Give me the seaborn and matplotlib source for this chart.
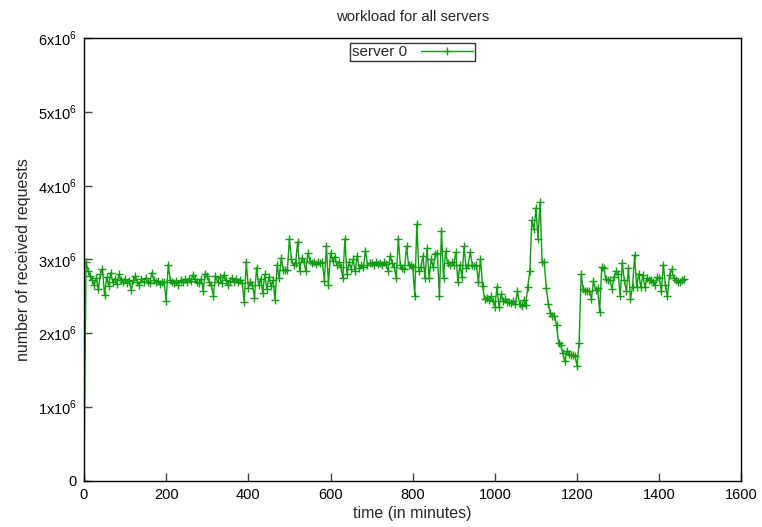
import numpy as np
import pandas as pd
import matplotlib
matplotlib.use("Agg")
import matplotlib.pyplot as plt
from matplotlib.ticker import FuncFormatter, MultipleLocator
import seaborn as sns

# values in millions of requests, one per 5 minutes starting at t=0
seg_000 = [0.0, 2.96, 2.85, 2.78, 2.72, 2.66, 2.75, 2.60, 2.80, 2.87, 2.52, 2.76, 2.64, 2.82, 2.70, 2.74, 2.67, 2.80, 2.72, 2.70]
seg_100 = [2.74, 2.68, 2.71, 2.59, 2.72, 2.77, 2.70, 2.66, 2.73, 2.69, 2.75, 2.70, 2.68, 2.82, 2.72, 2.69, 2.71, 2.67, 2.70, 2.69]
seg_200 = [2.44, 2.93, 2.72, 2.70, 2.68, 2.71, 2.66, 2.72, 2.69, 2.73, 2.70, 2.74, 2.71, 2.79, 2.73, 2.70, 2.68, 2.74, 2.58, 2.81]
seg_300 = [2.78, 2.70, 2.65, 2.51, 2.78, 2.70, 2.76, 2.68, 2.79, 2.72, 2.66, 2.71, 2.75, 2.69, 2.73, 2.70, 2.72, 2.68, 2.43, 2.96]
seg_400 = [2.62, 2.70, 2.66, 2.48, 2.89, 2.66, 2.74, 2.55, 2.80, 2.60, 2.76, 2.64, 2.72, 2.45, 2.92, 2.75, 3.02, 2.86, 2.86, 2.86]
seg_500 = [3.28, 3.00, 2.92, 2.95, 3.24, 2.85, 3.02, 2.97, 2.84, 3.09, 2.98, 2.95, 2.97, 2.94, 2.96, 2.95, 2.97, 2.71, 3.18, 2.66]
seg_600 = [3.09, 2.98, 3.04, 2.93, 2.97, 2.90, 2.75, 3.28, 2.81, 2.96, 2.87, 3.00, 2.84, 3.05, 2.88, 2.93, 2.90, 3.12, 2.93, 2.95]
seg_700 = [2.95, 2.93, 2.96, 2.94, 2.95, 2.93, 2.96, 2.94, 2.84, 3.05, 2.95, 2.90, 2.75, 3.28, 2.92, 2.88, 2.87, 3.18, 2.92, 2.93]
seg_800 = [2.90, 2.51, 3.48, 2.85, 2.90, 3.05, 2.75, 3.15, 2.75, 3.00, 2.90, 3.07, 3.09, 2.50, 3.39, 2.75, 3.11, 2.95, 2.93, 2.96]
seg_900 = [2.93, 3.10, 2.70, 2.93, 2.76, 3.18, 2.88, 2.93, 3.10, 2.93, 2.91, 2.93, 2.69, 3.01, 2.64, 2.47, 2.48, 2.45, 2.50, 2.44]
seg_1000 = [2.36, 2.63, 2.35, 2.53, 2.44, 2.46, 2.42, 2.43, 2.41, 2.44, 2.40, 2.57, 2.40, 2.37, 2.45, 2.38, 2.63, 2.84, 3.53, 3.41]
seg_1100 = [3.70, 3.28, 3.78, 2.96, 2.97, 2.62, 2.40, 2.28, 2.24, 2.24, 2.11, 1.87, 1.84, 1.74, 1.62, 1.76, 1.72, 1.70, 1.71, 1.69]
seg_1200 = [1.56, 1.87, 2.80, 2.60, 2.58, 2.57, 2.58, 2.47, 2.71, 2.59, 2.61, 2.29, 2.90, 2.88, 2.74, 2.72, 2.72, 2.60, 2.76, 2.84]
seg_1300 = [2.81, 2.50, 2.95, 2.72, 2.57, 2.88, 2.47, 2.63, 3.06, 2.63, 2.81, 2.63, 2.79, 2.63, 2.75, 2.72, 2.72, 2.69, 2.66, 2.76]
seg_1400 = [2.75, 2.57, 2.93, 2.66, 2.50, 2.79, 2.87, 2.75, 2.72, 2.70, 2.69, 2.72, 2.74]

requests_millions = (seg_000 + seg_100 + seg_200 + seg_300 + seg_400 + seg_500 + seg_600
                     + seg_700 + seg_800 + seg_900 + seg_1000 + seg_1100 + seg_1200
                     + seg_1300 + seg_1400)
minutes = [5 * i for i in range(len(requests_millions))]
series_name = "server 0"

df = pd.DataFrame({"time": minutes,
                   "requests": [v * 1e6 for v in requests_millions],
                   "series": series_name})

sns.set_style("white")
plt.rcParams["font.family"] = ["Liberation Sans", "DejaVu Sans"]
plt.rcParams["font.size"] = 10

fig = plt.figure(figsize=(7.62, 5.27), dpi=100)
ax = fig.add_axes([0.1102, 0.0873, 0.8628, 0.8406])

green = "#109c10"
sns.lineplot(data=df, x="time", y="requests", hue="series", palette=[green],
             marker="+", markersize=6, markeredgewidth=1.0, linewidth=1.0,
             markeredgecolor=green, ax=ax, legend=True)

ax.set_xlim(0, 1600)
ax.set_ylim(0, 6e6)
ax.xaxis.set_major_locator(MultipleLocator(200))
ax.yaxis.set_major_locator(MultipleLocator(1e6))


def yfmt(v, pos):
    n = int(round(v / 1e6))
    if n == 0:
        return "0"
    return r"%dx10$^{\mathregular{6}}$" % n


ax.yaxis.set_major_formatter(FuncFormatter(yfmt))
ax.tick_params(direction="in", length=6, width=1.0, bottom=True, left=True,
               top=False, right=False, labelsize=10.5, labelcolor="black",
               color="#444444", pad=5)
for s in ax.spines.values():
    s.set_color("black")
    s.set_linewidth(1.0)

ax.set_xlabel("time (in minutes)", fontsize=11.5, labelpad=3)
ax.set_ylabel("number of received requests", fontsize=11.5, labelpad=5)
ax.set_title("workload for all servers", fontsize=10.7, pad=12)

leg = ax.legend(loc="upper center", bbox_to_anchor=(0.5, 1.005), frameon=True,
                markerfirst=False, fancybox=False, handlelength=3.4,
                borderpad=0.12, handletextpad=0.9, borderaxespad=0.5,
                fontsize=11)
leg.get_frame().set_edgecolor("black")
leg.get_frame().set_linewidth(1.0)

fig.savefig("out.png", dpi=100)
